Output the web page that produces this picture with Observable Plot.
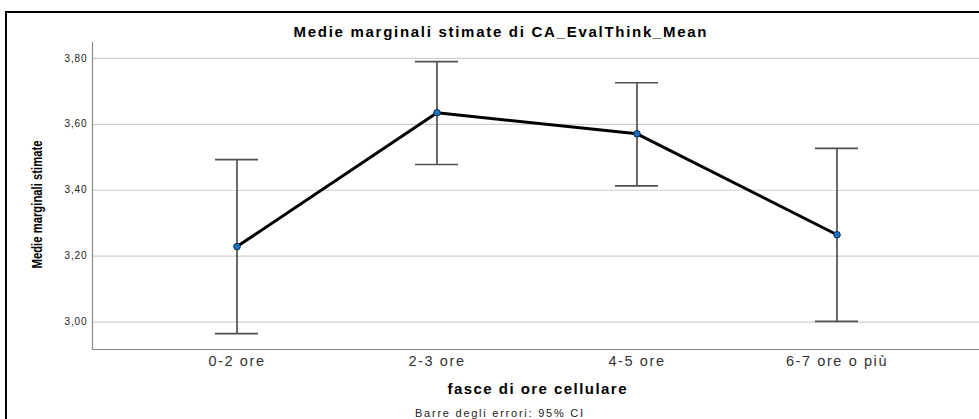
<!DOCTYPE html>
<html>
<head>
<meta charset="utf-8">
<script src="https://cdn.jsdelivr.net/npm/d3@7"></script>
<script src="https://cdn.jsdelivr.net/npm/@observablehq/plot@0.6"></script>
<style>
  html, body { margin: 0; padding: 0; background: #fff; overflow: hidden; }
  #wrap { position: relative; width: 979px; height: 419px; overflow: hidden; }
  #border { position: absolute; left: 5px; top: 11px; width: 1100px; height: 600px;
            border: 2px solid #000; box-sizing: border-box; }
  #chart { position: absolute; left: 0; top: 0; }
  #chart svg { background: transparent !important; }
  g[aria-label="x-axis tick label"] text { letter-spacing: 1.6px; }
  g[aria-label="y-axis tick label"] text { letter-spacing: 0.9px; }
</style>
</head>
<body>
<div id="wrap">
  <div id="border"></div>
  <div id="chart"></div>
</div>
<script>
// Estimated marginal means of CA_EvalThink_Mean by daily phone-use band, with 95% CI
const categories = ["0-2 ore", "2-3 ore", "4-5 ore", "6-7 ore o più"];
const means = [3.229, 3.635, 3.571, 3.265];
const lower = [2.965, 3.478, 3.413, 3.002];
const upper = [3.493, 3.790, 3.726, 3.527];
const yTicks = [3.0, 3.2, 3.4, 3.6, 3.8];

const title = "Medie marginali stimate di CA_EvalThink_Mean";
const xTitle = "fasce di ore cellulare";
const yTitle = "Medie marginali stimate";
const caption = "Barre degli errori: 95% CI";

const rows = categories.map((c, i) => ({cat: c, mean: means[i], lo: lower[i], hi: upper[i]}));

const font = "'Liberation Sans', Arial, sans-serif";
const axisGray = "#8a8a8a";
const whisker = "#505050";

const chart = Plot.plot({
  width: 979,
  height: 419,
  marginTop: 42,
  marginLeft: 92,
  marginRight: 0,
  marginBottom: 70,
  style: {fontFamily: font, color: "#222", background: "transparent"},
  x: {
    type: "band",
    domain: categories,
    range: [92, 981],
    paddingInner: 0.785,
    paddingOuter: 0.615,
    align: 0.5
  },
  y: {domain: [2.917, 3.848]},
  marks: [
    Plot.gridY(yTicks, {stroke: "#cfcfcf", strokeOpacity: 1, strokeWidth: 1.2}),
    Plot.frame({anchor: "left", stroke: axisGray, strokeWidth: 1.2}),
    Plot.frame({anchor: "bottom", stroke: axisGray, strokeWidth: 1.2}),
    Plot.axisY(yTicks, {
      tickSize: 0, tickPadding: 5, fontSize: 10, label: null,
      tickFormat: d => d.toFixed(2).replace(".", ",")
    }),
    Plot.axisX({tickSize: 0, tickPadding: 6, fontSize: 14.5, label: null, fill: "#333"}),
    // 95% CI whiskers and caps
    Plot.ruleX(rows, {x: "cat", y1: "lo", y2: "hi", stroke: whisker, strokeWidth: 1.7}),
    Plot.tickY(rows, {x: "cat", y: "lo", stroke: whisker, strokeWidth: 1.7}),
    Plot.tickY(rows, {x: "cat", y: "hi", stroke: whisker, strokeWidth: 1.7}),
    // mean profile
    Plot.line(rows, {x: "cat", y: "mean", stroke: "#000", strokeWidth: 3}),
    Plot.dot(rows, {x: "cat", y: "mean", r: 3.3, fill: "#1a73c2", stroke: "#0b2a48", strokeWidth: 1}),
    // titles
    Plot.text([title], {frameAnchor: "top", dx: -36, dy: -10.5, lineAnchor: "middle",
      fontSize: 15, fontWeight: "bold", fill: "#000"}),
    Plot.text([xTitle], {frameAnchor: "bottom", dx: 1, dy: 40, lineAnchor: "middle",
      fontSize: 15, fontWeight: "bold", fill: "#000"}),
    Plot.text([caption], {frameAnchor: "bottom", dx: -37, dy: 64, lineAnchor: "middle",
      fontSize: 11, fill: "#222"}),
    Plot.text([yTitle], {frameAnchor: "left", dx: -55, dy: 8.5, rotate: -90,
      textAnchor: "middle", lineAnchor: "middle",
      fontSize: 15, fontWeight: "bold", fill: "#000"})
  ]
});

document.getElementById("chart").appendChild(chart);

// SPSS-style typesetting: stretch the titles and condense the y title to their set widths
const widths = new Map([[title, 413], [xTitle, 179], [caption, 168], [yTitle, 128]]);
chart.querySelectorAll("text").forEach(t => {
  const w = widths.get(t.textContent);
  if (w) {
    t.setAttribute("textLength", w);
    t.setAttribute("lengthAdjust", t.textContent === yTitle ? "spacingAndGlyphs" : "spacing");
  }
});
</script>
</body>
</html>
